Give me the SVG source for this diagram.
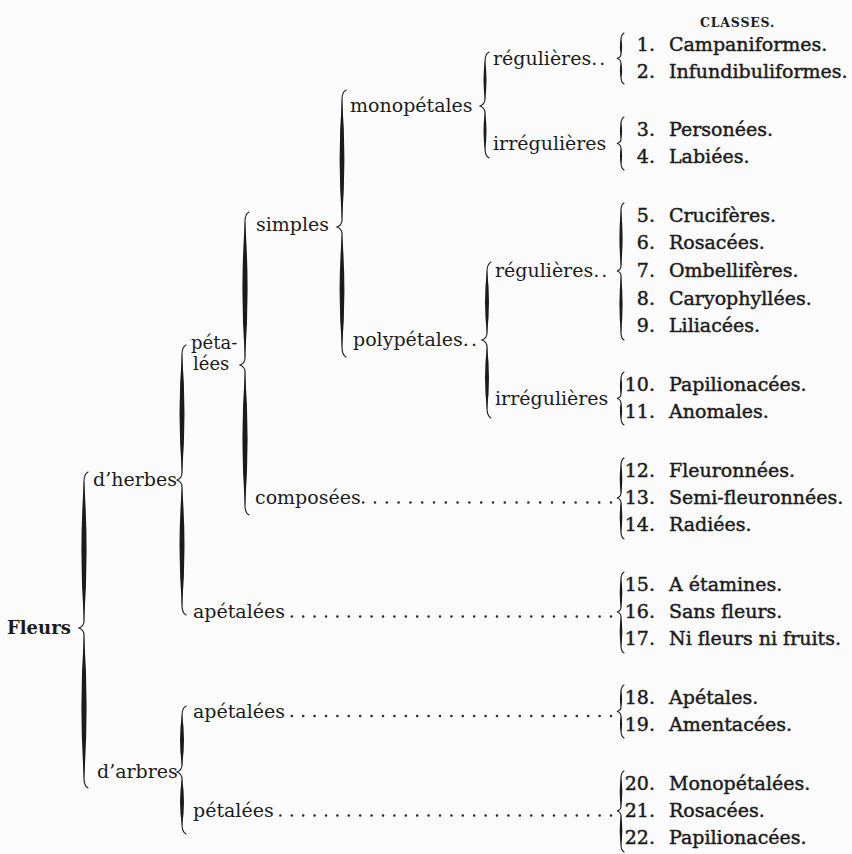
<svg xmlns="http://www.w3.org/2000/svg" width="852" height="854" viewBox="0 0 852 854">
<style>
text{font-family:"DejaVu Serif","Liberation Serif",serif;fill:#1b1b1b;font-size:19px}
.cl{stroke:#1b1b1b;stroke-width:0.45px}
.num{text-anchor:end}
.root{font-weight:bold;font-size:18px}
.hd{font-weight:bold;font-size:12.5px;letter-spacing:0.8px}
.sm{font-size:18px}
.sk{fill:none;stroke:#1b1b1b;stroke-width:1.1;stroke-linecap:round}
.ln{fill:#1b1b1b}
.dots{fill:none;stroke:#2a2a2a;stroke-width:2.6;stroke-linecap:round;stroke-dasharray:0 11.4}
</style>
<rect width="852" height="854" fill="#fbfbfb"/>
<g id="connectors">
<!-- Fleurs brace -->
<path class="sk" d="M88,472 Q84,474 84,482 L84,621 Q84,626 79,628 Q84,630 84,635 L84,778 Q84,786 88,788"/>
<path class="ln" d="M84,480 Q78.8,551 84,622 Q89.2,551 84,480Z M84,634 Q78.8,707 84,780 Q89.2,707 84,634Z"/>
<!-- d'herbes brace -->
<path class="sk" d="M186,345 Q182,347 182,355 L182,473 Q182,478 177,480 Q182,482 182,487 L182,605 Q182,613 186,615"/>
<path class="ln" d="M182,353 Q177,413.5 182,474 Q187,413.5 182,353Z M182,486 Q177,546.5 182,607 Q187,546.5 182,486Z"/>
<!-- d'arbres brace -->
<path class="sk" d="M186,706 Q182,708 182,716 L182,765 Q182,770 177,772 Q182,774 182,779 L182,824 Q182,832 186,834"/>
<path class="ln" d="M182,714 Q178,740 182,766 Q186,740 182,714Z M182,778 Q178,802 182,826 Q186,802 182,778Z"/>
<!-- pétalées brace -->
<path class="sk" d="M249,212 Q245,214 245,222 L245,358 Q245,363 240,365 Q245,367 245,372 L245,505 Q245,513 249,515"/>
<path class="ln" d="M245,220 Q239.8,289.5 245,359 Q250.2,289.5 245,220Z M245,371 Q239.8,439 245,507 Q250.2,439 245,371Z"/>
<!-- simples brace -->
<path class="sk" d="M346,90 Q342,92 342,100 L342,220 Q342,225 337,227 Q342,229 342,234 L342,347 Q342,355 346,357"/>
<path class="ln" d="M342,98 Q337.2,159.5 342,221 Q346.8,159.5 342,98Z M342,233 Q337.2,291 342,349 Q346.8,291 342,233Z"/>
<!-- monopétales brace -->
<path class="sk" d="M489,52 Q485,54 485,62 L485,99 Q485,104 480,106 Q485,108 485,113 L485,148 Q485,156 489,158"/>
<path class="ln" d="M485,60 Q482,80 485,100 Q488,80 485,60Z M485,112 Q482,131 485,150 Q488,131 485,112Z"/>
<!-- polypétales brace -->
<path class="sk" d="M491,262 Q487,264 487,272 L487,333 Q487,338 482,340 Q487,342 487,347 L487,408 Q487,416 491,418"/>
<path class="ln" d="M487,270 Q483,302 487,334 Q491,302 487,270Z M487,346 Q483,378 487,410 Q491,378 487,346Z"/>
<!-- class braces -->
<path class="sk" d="M624,33 Q621,35 621,40 L621,53.5 Q621,57.5 617,58.5 Q621,59.5 621,63.5 L621,77 Q621,82 624,84"/>
<path class="ln" d="M621,39 Q618.8,46.5 621,54 Q623.2,46.5 621,39Z M621,63 Q618.8,70.5 621,78 Q623.2,70.5 621,63Z"/>
<path class="sk" d="M624,117 Q621,119 621,124 L621,138.5 Q621,142.5 617,143.5 Q621,144.5 621,148.5 L621,163 Q621,168 624,170"/>
<path class="ln" d="M621,123 Q618.8,131 621,139 Q623.2,131 621,123Z M621,148 Q618.8,156 621,164 Q623.2,156 621,148Z"/>
<path class="sk" d="M624,203 Q621,205 621,210 L621,266 Q621,270 617,271 Q621,272 621,276 L621,333 Q621,338 624,340"/>
<path class="ln" d="M621,209 Q617.8,238 621,267 Q624.2,238 621,209Z M621,275 Q617.8,304.5 621,334 Q624.2,304.5 621,275Z"/>
<path class="sk" d="M624,372 Q621,374 621,379 L621,393.5 Q621,397.5 617,398.5 Q621,399.5 621,403.5 L621,418 Q621,423 624,425"/>
<path class="ln" d="M621,378 Q618.8,386 621,394 Q623.2,386 621,378Z M621,403 Q618.8,411 621,419 Q623.2,411 621,403Z"/>
<path class="sk" d="M624,458 Q621,460 621,465 L621,493 Q621,497 617,498 Q621,499 621,503 L621,532 Q621,537 624,539"/>
<path class="ln" d="M621,464 Q618.4,479 621,494 Q623.6,479 621,464Z M621,502 Q618.4,517.5 621,533 Q623.6,517.5 621,502Z"/>
<path class="sk" d="M624,572 Q621,574 621,579 L621,607 Q621,611 617,612 Q621,613 621,617 L621,646 Q621,651 624,653"/>
<path class="ln" d="M621,578 Q618.4,593 621,608 Q623.6,593 621,578Z M621,616 Q618.4,631.5 621,647 Q623.6,631.5 621,616Z"/>
<path class="sk" d="M624,685 Q621,687 621,692 L621,706.5 Q621,710.5 617,711.5 Q621,712.5 621,716.5 L621,731 Q621,736 624,738"/>
<path class="ln" d="M621,691 Q618.8,699 621,707 Q623.2,699 621,691Z M621,716 Q618.8,724 621,732 Q623.2,724 621,716Z"/>
<path class="sk" d="M624,771 Q621,773 621,778 L621,806 Q621,810 617,811 Q621,812 621,816 L621,845 Q621,850 624,852"/>
<path class="ln" d="M621,777 Q618.4,792 621,807 Q623.6,792 621,777Z M621,815 Q618.4,830.5 621,846 Q623.6,830.5 621,815Z"/>
<!-- leader dots -->
<path class="dots" style="stroke-dasharray:0 11.8" d="M363.2,502.5 H612"/>
<path class="dots" d="M291.8,616.5 H612"/>
<path class="dots" d="M291.8,716 H612"/>
<path class="dots" d="M280.4,815.5 H612"/>
</g>
<g id="n-fleurs"><text class="root" x="7" y="634">Fleurs</text></g>
<g id="n-herbes"><text x="93" y="486">d’herbes</text></g>
<g id="n-arbres"><text x="97" y="778">d’arbres</text></g>
<g id="n-petalees"><text class="sm" x="191" y="349">péta-</text><text class="sm" x="193" y="370">lées</text></g>
<g id="n-apetalees-h"><text x="193" y="618">apétalées</text></g>
<g id="n-apetalees-a"><text x="193" y="717.5">apétalées</text></g>
<g id="n-petalees-a"><text x="193" y="817">pétalées</text></g>
<g id="n-simples"><text x="256" y="231">simples</text></g>
<g id="n-composees"><text x="255" y="504">composées</text></g>
<g id="n-monopetales"><text x="350" y="112">monopétales</text></g>
<g id="n-polypetales"><text x="353" y="346">polypétales<tspan letter-spacing="2">..</tspan></text></g>
<g id="n-reg1"><text x="493" y="64.5">régulières<tspan letter-spacing="2">..</tspan></text></g>
<g id="n-irr1"><text x="493" y="150">irrégulières</text></g>
<g id="n-reg2"><text x="495" y="277">régulières<tspan letter-spacing="2">..</tspan></text></g>
<g id="n-irr2"><text x="495" y="404.5">irrégulières</text></g>
<g id="classes">
<text class="hd" x="700" y="27">CLASSES.</text>
<text class="cl num" x="655" y="51">1.</text><text class="cl" x="669" y="51">Campaniformes.</text>
<text class="cl num" x="655" y="78">2.</text><text class="cl" x="669" y="78">Infundibuliformes.</text>
<text class="cl num" x="655" y="136">3.</text><text class="cl" x="669" y="136">Personées.</text>
<text class="cl num" x="655" y="163">4.</text><text class="cl" x="669" y="163">Labiées.</text>
<text class="cl num" x="655" y="222">5.</text><text class="cl" x="669" y="222">Crucifères.</text>
<text class="cl num" x="655" y="249">6.</text><text class="cl" x="669" y="249">Rosacées.</text>
<text class="cl num" x="655" y="277">7.</text><text class="cl" x="669" y="277">Ombellifères.</text>
<text class="cl num" x="655" y="305">8.</text><text class="cl" x="669" y="305">Caryophyllées.</text>
<text class="cl num" x="655" y="332">9.</text><text class="cl" x="669" y="332">Liliacées.</text>
<text class="cl num" x="655" y="391">10.</text><text class="cl" x="669" y="391">Papilionacées.</text>
<text class="cl num" x="655" y="418">11.</text><text class="cl" x="669" y="418">Anomales.</text>
<text class="cl num" x="655" y="477">12.</text><text class="cl" x="669" y="477">Fleuronnées.</text>
<text class="cl num" x="655" y="504">13.</text><text class="cl" x="669" y="504">Semi-fleuronnées.</text>
<text class="cl num" x="655" y="531">14.</text><text class="cl" x="669" y="531">Radiées.</text>
<text class="cl num" x="655" y="591">15.</text><text class="cl" x="669" y="591">A étamines.</text>
<text class="cl num" x="655" y="618">16.</text><text class="cl" x="669" y="618">Sans fleurs.</text>
<text class="cl num" x="655" y="645">17.</text><text class="cl" x="669" y="645">Ni fleurs ni fruits.</text>
<text class="cl num" x="655" y="704">18.</text><text class="cl" x="669" y="704">Apétales.</text>
<text class="cl num" x="655" y="731">19.</text><text class="cl" x="669" y="731">Amentacées.</text>
<text class="cl num" x="655" y="790">20.</text><text class="cl" x="669" y="790">Monopétalées.</text>
<text class="cl num" x="655" y="817">21.</text><text class="cl" x="669" y="817">Rosacées.</text>
<text class="cl num" x="655" y="844">22.</text><text class="cl" x="669" y="844">Papilionacées.</text>
</g>
</svg>
